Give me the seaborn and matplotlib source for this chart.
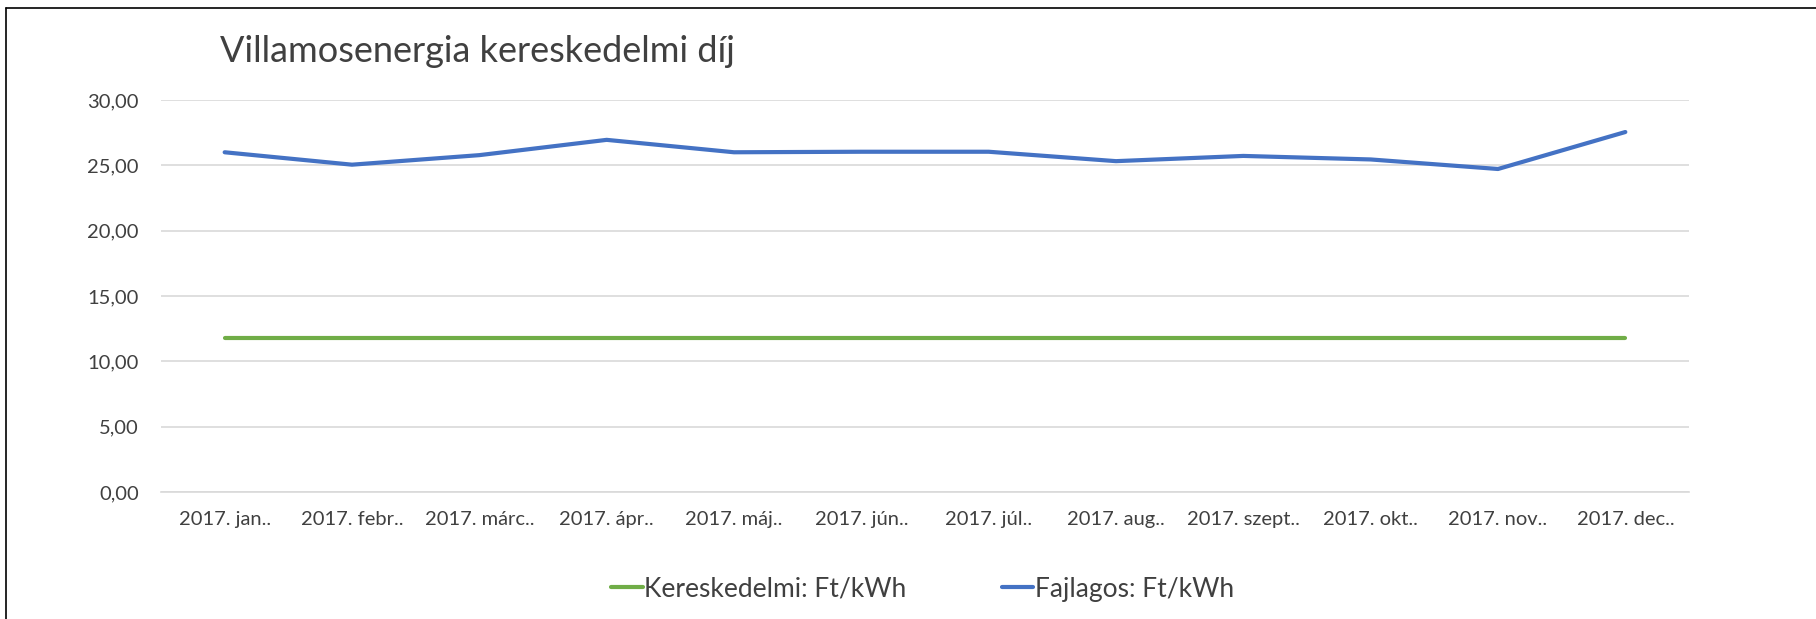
import pandas as pd
import matplotlib.pyplot as plt
import seaborn as sns
from matplotlib.lines import Line2D
from matplotlib.ticker import FixedLocator

# Adatok
months = ['2017. jan..', '2017. febr..', '2017. márc..', '2017. ápr..', '2017. máj..', '2017. jún..',
          '2017. júl..', '2017. aug..', '2017. szept..', '2017. okt..', '2017. nov..', '2017. dec..']
kereskedelmi = [11.8] * 12
fajlagos = [26.0, 25.05, 25.78, 26.95, 26.0, 26.04, 26.04, 25.32, 25.72, 25.45, 24.72, 27.55]
series_names = ['Kereskedelmi: Ft/kWh', 'Fajlagos: Ft/kWh']
y_ticks = [0, 5, 10, 15, 20, 25, 30]

df = pd.DataFrame({
    'Hónap': months * 2,
    'Érték': kereskedelmi + fajlagos,
    'Sorozat': [series_names[0]] * 12 + [series_names[1]] * 12,
})

sns.set_style('white')
plt.rcParams['font.family'] = ['Lato', 'DejaVu Sans']
text_color = '#404040'
grid_color = '#D9D9D9'

fig = plt.figure(figsize=(18.16, 6.19), dpi=100)
ax = fig.add_axes([161 / 1816, 1 - 492 / 619, (1689 - 161) / 1816, (492 - 100) / 619])

sns.lineplot(data=df, x='Hónap', y='Érték', hue='Sorozat', sort=False, ax=ax,
             palette={series_names[0]: '#70AD47', series_names[1]: '#4472C4'},
             linewidth=3.0, legend=False)

ax.set_xlim(-0.5, len(months) - 0.5)
ax.set_ylim(0, 30)
ax.set_yticks(y_ticks)
ax.set_yticklabels([f'{v:.2f}'.replace('.', ',') for v in y_ticks])
ax.set_xticks(range(len(months)))
ax.set_xticklabels(months)
ax.xaxis.set_minor_locator(FixedLocator([i - 0.5 for i in range(len(months) + 1)]))
ax.tick_params(axis='x', which='major', length=0, pad=14, labelsize=14.5, labelcolor=text_color)
ax.tick_params(axis='x', which='minor', length=7, color=grid_color, width=1.2)
ax.tick_params(axis='y', length=0, pad=16, labelsize=14.5, labelcolor=text_color)
ax.set_xlabel('')
ax.set_ylabel('')
ax.grid(axis='y', color=grid_color, linewidth=1.2)
ax.set_axisbelow(True)
for side in ['top', 'right', 'left']:
    ax.spines[side].set_visible(False)
ax.spines['bottom'].set_color(grid_color)
ax.spines['bottom'].set_linewidth(1.2)

fig.text(220 / 1816, 1 - 52 / 619, 'Villamosenergia kereskedelmi díj', fontsize=26,
         color=text_color, va='center', ha='left')

handles = [Line2D([], [], color='#70AD47', linewidth=3.0),
           Line2D([], [], color='#4472C4', linewidth=3.0)]
fig.legend(handles, series_names, loc='center', bbox_to_anchor=(0.508, 1 - 589 / 619), ncol=2,
           frameon=False, fontsize=19, handlelength=1.2, handletextpad=0.05, columnspacing=3.6,
           labelcolor=text_color)

# keret bal és felső oldalon
fig.add_artist(Line2D([6 / 1816, 6 / 1816], [0, 1 - 8 / 619], color='black', linewidth=1.2))
fig.add_artist(Line2D([6 / 1816, 1], [1 - 8 / 619, 1 - 8 / 619], color='black', linewidth=1.2))

fig.savefig('out.png', dpi=100)
